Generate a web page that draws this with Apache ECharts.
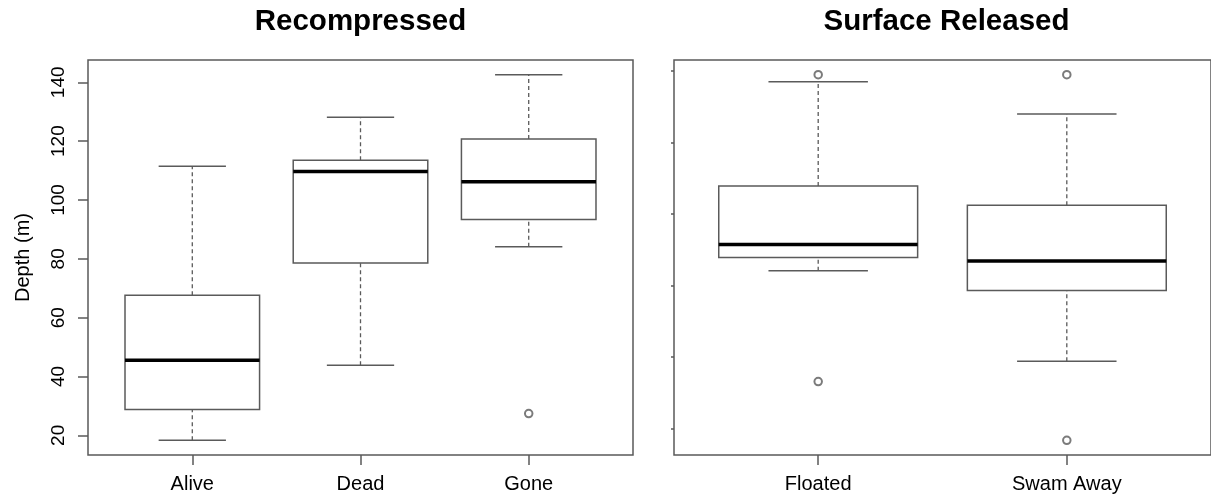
<!DOCTYPE html>
<html>
<head>
<meta charset="utf-8">
<title>Depth by fate</title>
<script src="https://cdn.jsdelivr.net/npm/echarts@6/dist/echarts.min.js"></script>
<style>
  html, body { margin: 0; padding: 0; background: #fff; }
  #chart { width: 1211px; height: 495px; }
</style>
</head>
<body>
<div id="chart"></div>
<script>
// Groups in each panel
const recompressedGroups = ['Alive', 'Dead', 'Gone'];
const releasedGroups = ['Floated', 'Swam Away'];

// Five-number summaries: [lower whisker, Q1, median, Q3, upper whisker]
const alive = [18.3, 28.8, 45.5, 67.6, 111.5];
const dead = [43.8, 78.6, 109.7, 113.5, 128.1];
const gone = [84.1, 93.4, 106.2, 120.7, 142.6];
const floated = [76.0, 80.5, 84.9, 104.8, 140.3];
const swamAway = [45.2, 69.3, 79.3, 98.3, 129.3];

// Outlying points: [group index (1-based), depth]
const recompressedOutliers = [[3, 27.4]];
const releasedOutliers = [[1, 142.7], [1, 38.3], [2, 142.7], [2, 18.3]];

// Tick values on the depth axes
const depthTicks = [20, 40, 60, 80, 100, 120, 140];
const releasedDepthTicks = [22.4, 46.8, 70.9, 95.3, 119.5, 143.9];

const FONT = "'Liberation Sans', Arial, Helvetica, sans-serif";
const LINE = '#5a5a5a';

// Axis range: data extent padded by 4% on each side
function limits(stats, outliers) {
  const vals = [];
  stats.forEach(s => vals.push(...s));
  outliers.forEach(o => vals.push(o[1]));
  const lo = Math.min(...vals), hi = Math.max(...vals);
  const pad = (hi - lo) * 0.04;
  return [lo - pad, hi + pad];
}

// One box: dashed whiskers, solid caps, outlined box, heavy median bar
function renderBox(params, api) {
  const x = api.value(0);
  const lo = api.value(1), q1 = api.value(2), med = api.value(3), q3 = api.value(4), hi = api.value(5);
  const pt = (xv, yv) => api.coord([xv, yv]);
  const halfBox = 0.4, halfCap = 0.2;
  const bl = pt(x - halfBox, q3), br = pt(x + halfBox, q1);
  const dashStyle = { stroke: LINE, lineWidth: 1.3, lineDash: [4, 3], fill: null };
  const solid = { stroke: LINE, lineWidth: 1.5, fill: null };
  const line = (a, b, style) => ({
    type: 'line',
    shape: { x1: a[0], y1: a[1], x2: b[0], y2: b[1] },
    style: style
  });
  return {
    type: 'group',
    children: [
      line(pt(x, q3), pt(x, hi), dashStyle),
      line(pt(x, lo), pt(x, q1), dashStyle),
      line(pt(x - halfCap, hi), pt(x + halfCap, hi), solid),
      line(pt(x - halfCap, lo), pt(x + halfCap, lo), solid),
      {
        type: 'rect',
        shape: { x: bl[0], y: bl[1], width: br[0] - bl[0], height: br[1] - bl[1] },
        style: { stroke: LINE, lineWidth: 1.5, fill: '#fff' }
      },
      line(pt(x - halfBox, med), pt(x + halfBox, med), { stroke: '#000', lineWidth: 3.5 })
    ]
  };
}

const leftStats = [alive, dead, gone];
const rightStats = [floated, swamAway];
const leftLim = limits(leftStats, recompressedOutliers);
const rightLim = limits(rightStats, releasedOutliers);

const chart = echarts.init(document.getElementById('chart'), null, { renderer: 'canvas' });

const gridCommon = { top: 60, height: 395, width: 545, show: true, borderColor: LINE, borderWidth: 1.5, backgroundColor: 'transparent' };

function xAxisFor(gridIndex, names, pad) {
  const idx = names.map((_, i) => i + 1);
  return {
    type: 'value', gridIndex: gridIndex,
    min: 1 - 0.5 - pad, max: names.length + 0.5 + pad,
    splitLine: { show: false },
    axisLine: { show: false },
    axisTick: { show: true, inside: false, length: 10, lineStyle: { color: LINE, width: 1.5 }, customValues: idx },
    axisLabel: {
      show: true, margin: 19, fontFamily: FONT, fontSize: 20, color: '#000',
      customValues: idx,
      formatter: v => names[Math.round(v) - 1]
    }
  };
}

chart.setOption({
  animation: false,
  backgroundColor: '#fff',
  grid: [
    Object.assign({ left: 88 }, gridCommon),
    Object.assign({ left: 674 }, gridCommon)
  ],
  graphic: [
    { type: 'text', x: 360.5, y: 22, style: { text: 'Recompressed', font: 'bold 29.5px ' + FONT, fill: '#000', align: 'center', verticalAlign: 'middle' } },
    { type: 'text', x: 946.5, y: 22, style: { text: 'Surface Released', font: 'bold 29.5px ' + FONT, fill: '#000', align: 'center', verticalAlign: 'middle' } }
  ],
  xAxis: [
    xAxisFor(0, recompressedGroups, 0.12),
    xAxisFor(1, releasedGroups, 0.08)
  ],
  yAxis: [
    {
      type: 'value', gridIndex: 0, min: leftLim[0], max: leftLim[1],
      name: 'Depth (m)', nameLocation: 'middle', nameRotate: 90, nameGap: 55,
      nameTextStyle: { fontFamily: FONT, fontSize: 20, color: '#000' },
      splitLine: { show: false },
      axisLine: { show: false },
      axisTick: { show: true, length: 10, lineStyle: { color: LINE, width: 1.5 }, customValues: depthTicks },
      axisLabel: { show: true, rotate: 90, margin: 20, fontFamily: FONT, fontSize: 19, color: '#000', customValues: depthTicks }
    },
    {
      type: 'value', gridIndex: 1, min: rightLim[0], max: rightLim[1],
      splitLine: { show: false },
      axisLine: { show: false },
      axisTick: { show: true, length: 3, lineStyle: { color: LINE, width: 1.5 }, customValues: releasedDepthTicks },
      axisLabel: { show: false }
    }
  ],
  series: [
    {
      type: 'custom', xAxisIndex: 0, yAxisIndex: 0,
      renderItem: renderBox,
      encode: { x: 0, y: [1, 2, 3, 4, 5] },
      data: leftStats.map((s, i) => [i + 1].concat(s)),
      z: 2
    },
    {
      type: 'custom', xAxisIndex: 1, yAxisIndex: 1,
      renderItem: renderBox,
      encode: { x: 0, y: [1, 2, 3, 4, 5] },
      data: rightStats.map((s, i) => [i + 1].concat(s)),
      z: 2
    },
    {
      type: 'scatter', xAxisIndex: 0, yAxisIndex: 0,
      symbol: 'emptyCircle', symbolSize: 7.5,
      itemStyle: { color: LINE, borderColor: LINE, borderWidth: 1.2 },
      data: recompressedOutliers, z: 3
    },
    {
      type: 'scatter', xAxisIndex: 1, yAxisIndex: 1,
      symbol: 'emptyCircle', symbolSize: 7.5,
      itemStyle: { color: LINE, borderColor: LINE, borderWidth: 1.2 },
      data: releasedOutliers, z: 3
    }
  ]
});
</script>
</body>
</html>
